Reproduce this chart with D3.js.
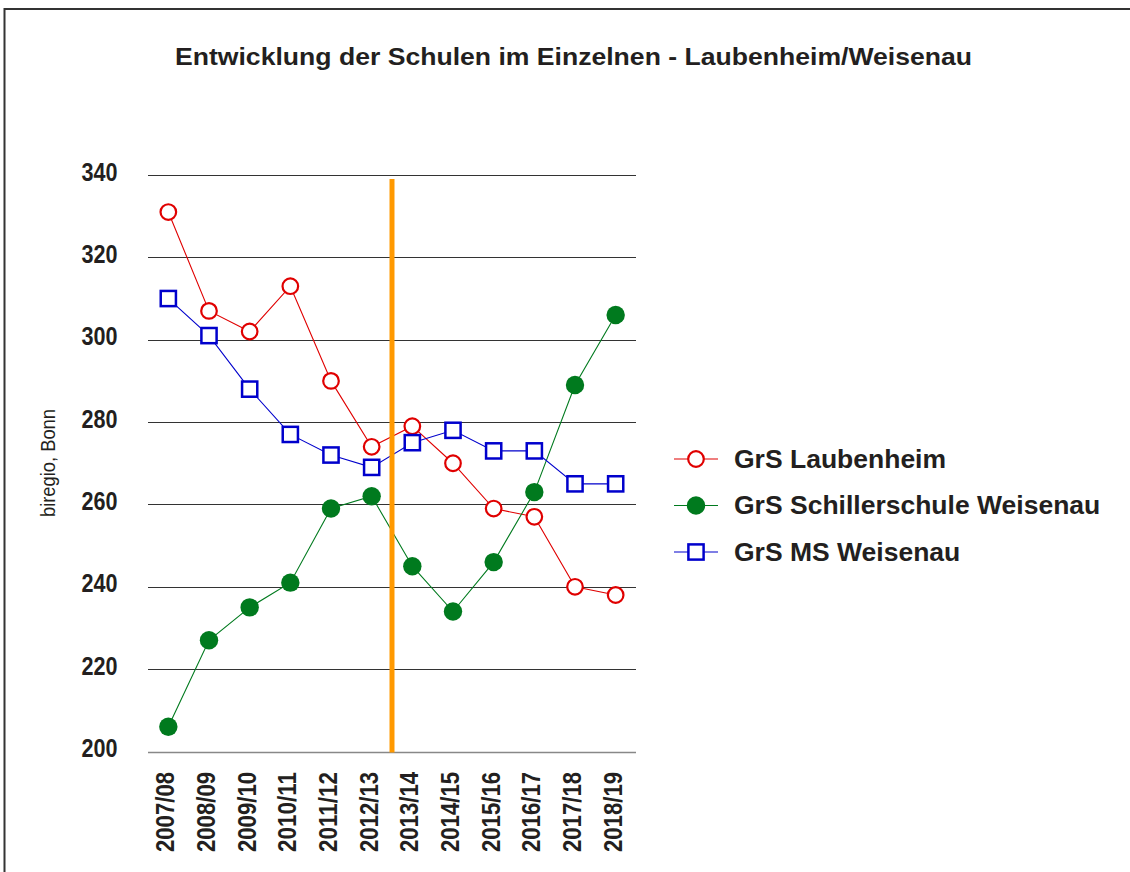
<!DOCTYPE html>
<html>
<head>
<meta charset="utf-8">
<script src="https://cdn.jsdelivr.net/npm/d3@7"></script>
<style>
  html, body { margin: 0; padding: 0; background: #fff; }
  svg { display: block; }
  text { font-family: "Liberation Sans", Arial, sans-serif; fill: #231f20; }
</style>
</head>
<body>
<svg id="chart" width="1130" height="872"></svg>
<script>
const title = "Entwicklung der Schulen im Einzelnen - Laubenheim/Weisenau";
const yAxisTitle = "biregio, Bonn";
const categories = ["2007/08","2008/09","2009/10","2010/11","2011/12","2012/13","2013/14","2014/15","2015/16","2016/17","2017/18","2018/19"];
const laubenheim = [331, 307, 302, 313, 290, 274, 279, 270, 259, 257, 240, 238];
const schiller   = [206, 227, 235, 241, 259, 262, 245, 234, 246, 263, 289, 306];
const msWeisenau = [310, 301, 288, 277, 272, 269, 275, 278, 273, 273, 265, 265];
const yTicks = [200, 220, 240, 260, 280, 300, 320, 340];
const seriesNames = ["GrS Laubenheim", "GrS Schillerschule Weisenau", "GrS MS Weisenau"];
const markerBoundaryIndex = 6;   // orange line sits before "2013/14"
const markerLineRange = [200, 339];

const series = [
  { name: seriesNames[0], values: laubenheim, color: "#e00000", shape: "circleOpen" },
  { name: seriesNames[1], values: schiller,   color: "#007a1e", shape: "circleFilled" },
  { name: seriesNames[2], values: msWeisenau, color: "#0000cc", shape: "square" }
];

const svg = d3.select("#chart");
const plotLeft = 148, plotRight = 636, plotTop = 175, plotBottom = 751.5;

const x = d3.scaleBand().domain(categories).range([plotLeft, plotRight]).paddingInner(0).paddingOuter(0);
const y = d3.scaleLinear().domain([200, 340]).range([plotBottom, plotTop]);
const cx = d => x(d) + x.bandwidth() / 2;

// frame
svg.append("line").attr("x1", 4.5).attr("x2", 4.5).attr("y1", 8).attr("y2", 872)
  .attr("stroke", "#333").attr("stroke-width", 2);
svg.append("line").attr("x1", 4).attr("x2", 1130).attr("y1", 9).attr("y2", 9)
  .attr("stroke", "#333").attr("stroke-width", 2);

// title
svg.append("text").attr("x", 573.5).attr("y", 65).attr("text-anchor", "middle")
  .attr("font-size", 24).attr("font-weight", "bold")
  .attr("textLength", 797).attr("lengthAdjust", "spacingAndGlyphs")
  .text(title);

// gridlines
svg.append("g").selectAll("line").data(yTicks).join("line")
  .attr("x1", plotLeft).attr("x2", plotRight)
  .attr("y1", d => Math.round(y(d)) + 0.5).attr("y2", d => Math.round(y(d)) + 0.5)
  .attr("stroke", d => d === 200 ? "#888" : "#333")
  .attr("stroke-width", d => d === 200 ? 1.6 : 1);

// y tick labels
svg.append("g").selectAll("text").data(yTicks).join("text")
  .attr("x", 117.5).attr("y", d => y(d) + 5.5)
  .attr("text-anchor", "end").attr("font-size", 25.5).attr("font-weight", "bold")
  .attr("textLength", 36).attr("lengthAdjust", "spacingAndGlyphs")
  .text(d => d);

// x tick labels
svg.append("g").selectAll("text").data(categories).join("text")
  .attr("transform", d => `translate(${cx(d) + 6},772) rotate(-90)`)
  .attr("text-anchor", "end").attr("font-size", 26.5).attr("font-weight", "bold")
  .attr("textLength", 80).attr("lengthAdjust", "spacingAndGlyphs")
  .text(d => d);

// y axis title
svg.append("text")
  .attr("transform", "translate(55,463) rotate(-90)")
  .attr("text-anchor", "middle").attr("font-size", 20.5)
  .attr("textLength", 108).attr("lengthAdjust", "spacingAndGlyphs")
  .text(yAxisTitle);

function drawMarker(g, shape, color, px, py) {
  if (shape === "circleOpen") {
    g.append("circle").attr("cx", px).attr("cy", py).attr("r", 7.8)
      .attr("fill", "#fff").attr("stroke", color).attr("stroke-width", 2.2);
  } else if (shape === "circleFilled") {
    g.append("circle").attr("cx", px).attr("cy", py).attr("r", 9.2)
      .attr("fill", color);
  } else {
    g.append("rect").attr("x", px - 7.6).attr("y", py - 7.6).attr("width", 15.2).attr("height", 15.2)
      .attr("fill", "#fff").attr("stroke", color).attr("stroke-width", 2.5);
  }
}

const line = d3.line().x((d, i) => cx(categories[i])).y(d => y(d));

// series
series.forEach(s => {
  const g = svg.append("g");
  g.append("path").datum(s.values).attr("d", line)
    .attr("fill", "none").attr("stroke", s.color).attr("stroke-width", 1.1);
  s.values.forEach((v, i) => drawMarker(g, s.shape, s.color, cx(categories[i]), y(v)));
});

// orange separator
const bx = x(categories[markerBoundaryIndex]);
svg.append("line").attr("x1", bx).attr("x2", bx)
  .attr("y1", y(markerLineRange[1])).attr("y2", y(markerLineRange[0]) + 1)
  .attr("stroke", "#ff9900").attr("stroke-width", 5);

// legend
const legendY = [459, 505.5, 552];
series.forEach((s, i) => {
  const g = svg.append("g").attr("transform", `translate(0,${legendY[i]})`);
  g.append("line").attr("x1", 674).attr("x2", 718).attr("y1", 0).attr("y2", 0)
    .attr("stroke", s.color).attr("stroke-width", 1.1);
  drawMarker(g, s.shape, s.color, 696, 0);
  g.append("text").attr("x", 734).attr("y", 8.5).attr("font-size", 26.5).attr("font-weight", "bold")
    .text(s.name);
});
</script>
</body>
</html>
